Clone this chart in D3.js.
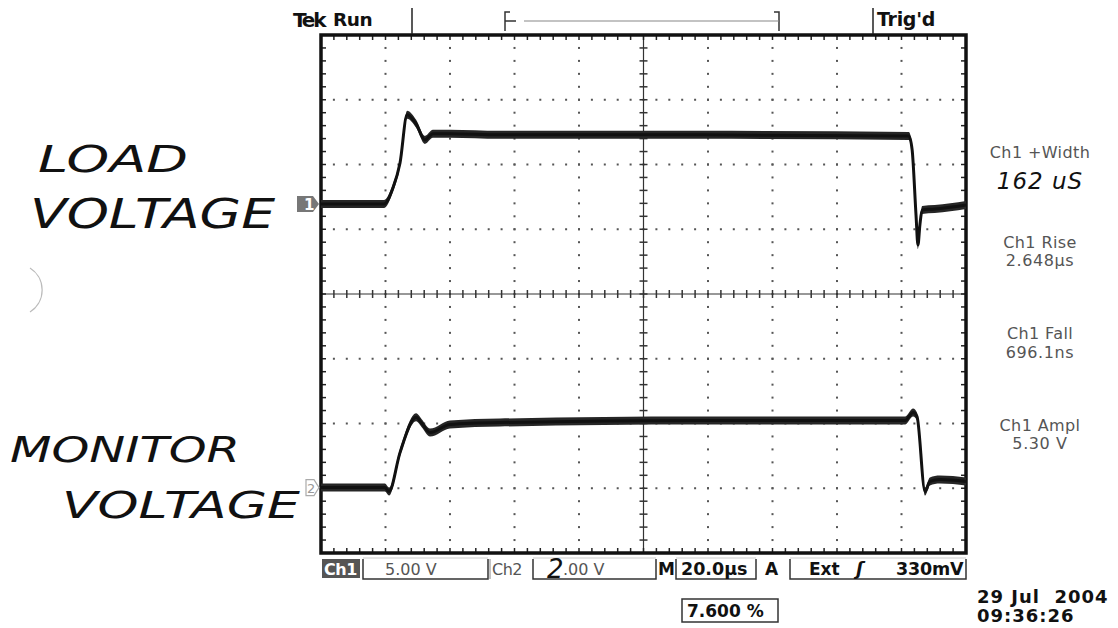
<!DOCTYPE html>
<html>
<head>
<meta charset="utf-8">
<script src="https://cdn.jsdelivr.net/npm/d3@7"></script>
<style>
  html, body { margin: 0; padding: 0; background: #fff; }
  svg { display: block; }
  .hand { font-family: "DejaVu Sans", sans-serif; font-style: italic; font-weight: 200; fill: #111; }
  .read { font-family: "DejaVu Sans", sans-serif; font-size: 16px; fill: #555; }
  .bold { font-family: "DejaVu Sans", sans-serif; font-weight: bold; fill: #111; }
</style>
</head>
<body>
<div id="chart"></div>
<script>
// --- scope settings ---
const timePerDiv = 20;     // µs / div
const ch1VoltsPerDiv = 5;  // V / div
const ch2VoltsPerDiv = 2;  // V / div
const ch1Offset = 1.39;    // ground marker, divisions above centre
const ch2Offset = -2.99;

// --- traces: [time µs, volts] ---
const ch1Trace = [
  [0, 0], [19.5, 0], [22.3, 1.24], [24.5, 3.17], [26.7, 6.89], [29.5, 6.19],
  [32.2, 4.95], [34.7, 5.42], [40.0, 5.42], [55.5, 5.34], [117.5, 5.34],
  [182.3, 5.26], [183.3, 4.18], [184.5, -0.85], [185.1, -3.17], [185.7, -1.63],
  [186.4, -0.46], [190.3, -0.39], [200, -0.08]
];
const ch2Trace = [
  [0, 0], [19.8, 0], [21.1, -0.12], [24.5, 1.08], [29.5, 2.17], [31.3, 1.98],
  [33.8, 1.70], [40.0, 1.95], [55.5, 2.01], [117.5, 2.07], [181.1, 2.07],
  [183.6, 2.32], [184.8, 2.20], [187.3, -0.12], [188.8, 0.19], [191.9, 0.25],
  [200, 0.19]
];

// --- readouts ---
const readoutLabels = ["Ch1 +Width", "Ch1 Rise", "Ch1 Fall", "Ch1 Ampl"];
const readoutValues = ["162 uS", "2.648\u00b5s", "696.1ns", "5.30 V"];
const statusTexts = ["Ch1", "5.00 V", "Ch2", "2.00 V", "M", "20.0\u00b5s", "A", "Ext", "\u0283", "330mV"];
const triggerPos = "7.600 %";
const dateLines = ["29 Jul\u00a0\u00a02004", "09:36:26"];

const W = 1118, H = 628;
const svg = d3.select("#chart").append("svg").attr("width", W).attr("height", H);

const plotL = 321, plotR = 966, plotT = 35, plotB = 553;
const x = d3.scaleLinear().domain([0, 10 * timePerDiv]).range([plotL, plotR]);
const y = d3.scaleLinear().domain([-4, 4]).range([plotB, plotT]);

// grid: dotted lines at every division, dots each 1/5 div
const g = svg.append("g");
const xMajor = d3.range(1, 10).map(i => i * timePerDiv);
const yMajor = [-3, -2, -1, 1, 2, 3];
const xMinor = d3.range(0, 51).map(i => i * timePerDiv / 5);
const yMinor = d3.range(0, 41).map(i => -4 + i / 5);

xMajor.filter(t => t !== 100).forEach(t => {
  yMinor.forEach(v => g.append("rect").attr("x", x(t) - 1).attr("y", y(v) - 1).attr("width", 2).attr("height", 2).attr("fill", "#555"));
});
yMajor.forEach(v => {
  xMinor.forEach(t => g.append("rect").attr("x", x(t) - 1).attr("y", y(v) - 1).attr("width", 2).attr("height", 2).attr("fill", "#555"));
});

// centre cross with ticks on both sides
g.append("line").attr("x1", plotL).attr("x2", plotR).attr("y1", y(0)).attr("y2", y(0)).attr("stroke", "#333").attr("stroke-width", 1.2);
g.append("line").attr("x1", x(100)).attr("x2", x(100)).attr("y1", plotT).attr("y2", plotB).attr("stroke", "#333").attr("stroke-width", 1.2);
xMinor.forEach(t => g.append("line").attr("x1", x(t)).attr("x2", x(t)).attr("y1", y(0) - 4).attr("y2", y(0) + 4).attr("stroke", "#333").attr("stroke-width", 1.5));
yMinor.forEach(v => g.append("line").attr("x1", x(100) - 4).attr("x2", x(100) + 4).attr("y1", y(v)).attr("y2", y(v)).attr("stroke", "#333").attr("stroke-width", 1.5));

// border ticks (inside)
xMinor.forEach(t => {
  g.append("line").attr("x1", x(t)).attr("x2", x(t)).attr("y1", plotT).attr("y2", plotT + 5).attr("stroke", "#222").attr("stroke-width", 1.5);
  g.append("line").attr("x1", x(t)).attr("x2", x(t)).attr("y1", plotB).attr("y2", plotB - 5).attr("stroke", "#222").attr("stroke-width", 1.5);
});
yMinor.forEach(v => {
  g.append("line").attr("x1", plotL).attr("x2", plotL + 5).attr("y1", y(v)).attr("y2", y(v)).attr("stroke", "#222").attr("stroke-width", 1.5);
  g.append("line").attr("x1", plotR).attr("x2", plotR - 5).attr("y1", y(v)).attr("y2", y(v)).attr("stroke", "#222").attr("stroke-width", 1.5);
});

// frame
g.append("rect").attr("x", plotL).attr("y", plotT).attr("width", plotR - plotL).attr("height", plotB - plotT)
  .attr("fill", "none").attr("stroke", "#111").attr("stroke-width", 3.5);

// traces: a vertical noise band plus a thin core line
const band = 4;
[[ch1Trace, ch1VoltsPerDiv, ch1Offset], [ch2Trace, ch2VoltsPerDiv, ch2Offset]].forEach(([data, vdiv, off]) => {
  const py = d => y(d[1] / vdiv + off);
  const area = d3.area().x(d => x(d[0])).y0(d => py(d) + band).y1(d => py(d) - band).curve(d3.curveMonotoneX);
  const line = d3.line().x(d => x(d[0])).y(py).curve(d3.curveMonotoneX);
  svg.append("path").attr("d", area(data)).attr("fill", "#262626");
  svg.append("path").attr("d", line(data)).attr("fill", "none").attr("stroke", "#111").attr("stroke-width", 3).attr("stroke-linejoin", "round");
});

// channel ground markers
const m1y = y(ch1Offset);
svg.append("path").attr("d", `M297,${m1y - 8} L313,${m1y - 8} L319,${m1y} L313,${m1y + 8} L297,${m1y + 8} Z`).attr("fill", "#777");
svg.append("text").attr("x", 304).attr("y", m1y + 6).attr("class", "bold").attr("font-size", 15).style("fill", "#fff").text("1");
const m2y = y(ch2Offset);
svg.append("path").attr("d", `M306,${m2y - 8} L314,${m2y - 8} L319,${m2y} L314,${m2y + 8} L306,${m2y + 8} Z`).attr("fill", "#fff").attr("stroke", "#aaa").attr("stroke-width", 1.2);
svg.append("text").attr("x", 307).attr("y", m2y + 5).attr("font-family", "DejaVu Sans").attr("font-size", 13).attr("fill", "#999").text("2");

// header
svg.append("text").attr("x", 293).attr("y", 27).attr("class", "bold").attr("font-size", 20).attr("letter-spacing", -2.2).text("Tek");
svg.append("text").attr("x", 333).attr("y", 26).attr("class", "bold").attr("font-size", 18.5).attr("letter-spacing", -0.5).text("Run");
svg.append("line").attr("x1", 412).attr("x2", 412).attr("y1", 8).attr("y2", 34).attr("stroke", "#222").attr("stroke-width", 1.5);
svg.append("line").attr("x1", 873).attr("x2", 873).attr("y1", 8).attr("y2", 34).attr("stroke", "#222").attr("stroke-width", 1.5);
svg.append("text").attr("x", 877).attr("y", 26).attr("class", "bold").attr("font-size", 19).attr("letter-spacing", -0.3).text("Trig'd");
svg.append("path").attr("d", "M510,12 L505,12 L505,31 M505,21 L516,21").attr("fill", "none").attr("stroke", "#333").attr("stroke-width", 1.5);
svg.append("path").attr("d", "M774,12 L779,12 L779,31").attr("fill", "none").attr("stroke", "#333").attr("stroke-width", 1.5);
svg.append("line").attr("x1", 524).attr("x2", 779).attr("y1", 21).attr("y2", 21).attr("stroke", "#888").attr("stroke-width", 1.2);

// handwritten annotations
svg.append("text").attr("class", "hand").attr("x", 38).attr("y", 172).attr("font-size", 38).attr("textLength", 150).attr("lengthAdjust", "spacingAndGlyphs").text("LOAD");
svg.append("text").attr("class", "hand").attr("x", 30).attr("y", 228).attr("font-size", 40).attr("textLength", 245).attr("lengthAdjust", "spacingAndGlyphs").text("VOLTAGE");
svg.append("text").attr("class", "hand").attr("x", 10).attr("y", 462).attr("font-size", 36).attr("textLength", 230).attr("lengthAdjust", "spacingAndGlyphs").text("MONITOR");
svg.append("text").attr("class", "hand").attr("x", 62).attr("y", 518).attr("font-size", 38).attr("textLength", 238).attr("lengthAdjust", "spacingAndGlyphs").text("VOLTAGE");
svg.append("path").attr("d", "M30,268 A26,26 0 0 1 30,312").attr("fill", "none").attr("stroke", "#bbb").attr("stroke-width", 1.2);

// right readouts
const rx = 1040;
const readY = [[158, 189], [248, 266], [339, 358], [431, 449]];
readoutLabels.forEach((lab, i) => {
  svg.append("text").attr("class", "read").attr("x", rx).attr("y", readY[i][0]).attr("text-anchor", "middle").attr("letter-spacing", 0.4).text(lab);
  if (i === 0) {
    svg.append("text").attr("class", "hand").attr("x", rx).attr("y", readY[i][1]).attr("text-anchor", "middle").attr("font-size", 23).attr("letter-spacing", 1).text(readoutValues[i]);
  } else {
    svg.append("text").attr("class", "read").attr("x", rx).attr("y", readY[i][1]).attr("text-anchor", "middle").attr("letter-spacing", 0.6).text(readoutValues[i]);
  }
});

// status bar
const sb = 575;
svg.append("rect").attr("x", 322).attr("y", 559).attr("width", 38).attr("height", 19).attr("fill", "#555");
svg.append("text").attr("x", 324).attr("y", sb).attr("class", "bold").attr("font-size", 16).attr("letter-spacing", -0.5).style("fill", "#fff").text(statusTexts[0]);
[[363, 488], [533, 656], [676, 756], [790, 966]].forEach(([a, b]) => {
  svg.append("path").attr("d", `M${a},559 L${a},579 L${b},579 L${b},559`).attr("fill", "none").attr("stroke", "#333").attr("stroke-width", 1.5);
  svg.append("line").attr("x1", a).attr("x2", b).attr("y1", 558).attr("y2", 558).attr("stroke", "#ccc").attr("stroke-width", 1);
});
svg.append("text").attr("x", 385).attr("y", sb).attr("class", "read").attr("font-size", 17.5).text(statusTexts[1]);
svg.append("line").attr("x1", 490).attr("x2", 490).attr("y1", 559).attr("y2", 579).attr("stroke", "#888").attr("stroke-width", 1);
svg.append("text").attr("x", 492).attr("y", sb).attr("class", "read").attr("font-size", 17).attr("letter-spacing", -0.5).text(statusTexts[2]);
svg.append("text").attr("x", 547).attr("y", sb + 3).attr("class", "hand").attr("font-size", 26).attr("font-weight", 400).text(statusTexts[3].slice(0, 1));
svg.append("text").attr("x", 563).attr("y", sb).attr("class", "read").attr("font-size", 17.5).text(statusTexts[3].slice(1));
svg.append("text").attr("x", 658).attr("y", sb).attr("class", "bold").attr("font-size", 17).text(statusTexts[4]);
svg.append("text").attr("x", 681).attr("y", sb).attr("class", "bold").attr("font-size", 17.5).text(statusTexts[5]);
svg.append("text").attr("x", 765).attr("y", sb).attr("class", "bold").attr("font-size", 17).text(statusTexts[6]);
svg.append("text").attr("x", 809).attr("y", sb).attr("class", "bold").attr("font-size", 17).text(statusTexts[7]);
svg.append("text").attr("x", 856).attr("y", sb).attr("class", "bold").attr("font-size", 18).attr("font-style", "italic").text(statusTexts[8]);
svg.append("text").attr("x", 896).attr("y", sb).attr("class", "bold").attr("font-size", 17.5).attr("letter-spacing", -0.2).text(statusTexts[9]);

// trigger position
svg.append("rect").attr("x", 682).attr("y", 599).attr("width", 96).attr("height", 23).attr("fill", "none").attr("stroke", "#333").attr("stroke-width", 1.5);
svg.append("text").attr("x", 687).attr("y", 617).attr("class", "bold").attr("font-size", 17).text(triggerPos);

// date / time
dateLines.forEach((t, i) => {
  svg.append("text").attr("x", 977).attr("y", 603 + i * 19).attr("class", "bold").attr("font-size", 18).attr("letter-spacing", 1).text(t);
});
</script>
</body>
</html>
